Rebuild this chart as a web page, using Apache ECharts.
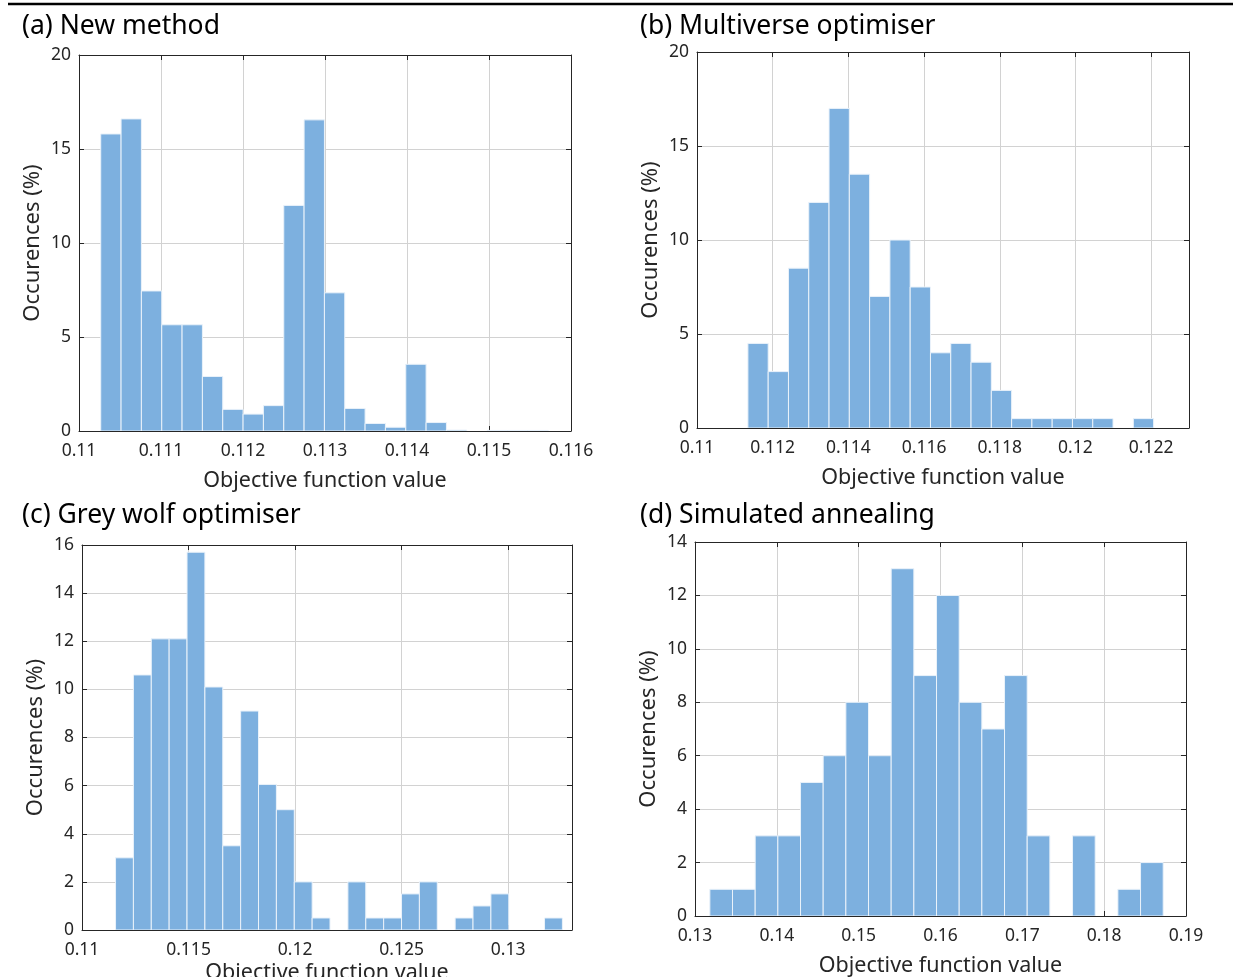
<!DOCTYPE html>
<html>
<head>
<meta charset="utf-8">
<script src="https://cdn.jsdelivr.net/npm/echarts@6/dist/echarts.min.js"></script>
<style>
html,body{margin:0;padding:0;background:#fff;}
#chart{width:1233px;height:977px;}
</style>
</head>
<body>
<div id="chart"></div>
<script>
// ---- Data ----
const titles = ['(a) New method', '(b) Multiverse optimiser', '(c) Grey wolf optimiser', '(d) Simulated annealing'];
const xAxisTitle = 'Objective function value';
const yAxisTitle = 'Occurences (%)';

// Panel (a) New method
const aBinStart = 0.110265;
const aBinWidth = 0.000248;
const aCounts = [15.8, 16.6, 7.45, 5.65, 5.65, 2.9, 1.15, 0.9, 1.35, 12.0, 16.55, 7.35, 1.2, 0.4, 0.2, 3.55, 0.45, 0.05, 0, 0.03, 0.03, 0.03];

// Panel (b) Multiverse optimiser
const bBinStart = 0.111345;
const bBinWidth = 0.000536;
const bCounts = [4.5, 3, 8.5, 12, 17, 13.5, 7, 10, 7.5, 4, 4.5, 3.5, 2, 0.5, 0.5, 0.5, 0.5, 0.5, 0, 0.5];

// Panel (c) Grey wolf optimiser
const cBinStart = 0.111574;
const cBinWidth = 0.000839;
const cCounts = [3, 10.6, 12.1, 12.1, 15.7, 10.1, 3.5, 9.1, 6.05, 5.0, 2, 0.5, 0, 2, 0.5, 0.5, 1.5, 2, 0, 0.5, 1, 1.5, 0, 0, 0.5];

// Panel (d) Simulated annealing
const dBinStart = 0.131814;
const dBinWidth = 0.00277;
const dCounts = [1, 1, 3, 3, 5, 6, 8, 6, 13, 9, 12, 8, 7, 9, 3, 0, 3, 0, 1, 2];

// Axis ranges / ticks
const xRanges = [[0.11, 0.116, 0.001], [0.11, 0.123, 0.002], [0.11, 0.133, 0.005], [0.13, 0.19, 0.01]];
const yRanges = [[0, 20, 5], [0, 20, 5], [0, 16, 2], [0, 14, 2]];

// ---- Layout ----
const grids = [
  {left: 79, top: 55, width: 492, height: 376},
  {left: 697, top: 52, width: 492, height: 376},
  {left: 82, top: 545, width: 490, height: 385},
  {left: 695, top: 542, width: 491, height: 374}
];
const titlePos = [[17, 8], [635, 8], [17, 497], [635, 497]];
const xNameGaps = [39, 39, 32, 39];
const showMaxX = [true, false, false, true];

const panels = [
  [aBinStart, aBinWidth, aCounts],
  [bBinStart, bBinWidth, bCounts],
  [cBinStart, cBinWidth, cCounts],
  [dBinStart, dBinWidth, dCounts]
];

const FONT = 'Noto Sans';
const TXT = '#262626';
const GRIDC = '#D2D2D2';
const BAR = '#7DB0DF';

function binData(start, width, counts) {
  return counts.map((v, i) => [start + i * width, start + (i + 1) * width, v]);
}

const xAxes = [], yAxes = [], series = [], titleOpts = [];
grids.forEach((g, i) => {
  const [xmin, xmax, xint] = xRanges[i];
  const [ymin, ymax, yint] = yRanges[i];
  const baseX = {
    type: 'value', gridIndex: i, min: xmin, max: xmax, interval: xint,
    axisLine: {show: true, onZero: false, lineStyle: {color: TXT, width: 1}},
    axisTick: {show: true, inside: true, length: 5, lineStyle: {color: TXT}},
    splitLine: {show: false}
  };
  xAxes.push(Object.assign({}, baseX, {
    position: 'bottom',
    name: xAxisTitle, nameLocation: 'middle', nameGap: xNameGaps[i],
    nameTextStyle: {fontFamily: FONT, fontSize: 21.5, color: TXT},
    axisLabel: {show: true, margin: 11, fontFamily: FONT, fontSize: 17.5, color: TXT,
      showMaxLabel: showMaxX[i], showMinLabel: true},
    splitLine: {show: true, lineStyle: {color: GRIDC, width: 1}}
  }));
  xAxes.push(Object.assign({}, baseX, {position: 'top', axisLabel: {show: false}}));
  const baseY = {
    type: 'value', gridIndex: i, min: ymin, max: ymax, interval: yint,
    axisLine: {show: true, onZero: false, lineStyle: {color: TXT, width: 1}},
    axisTick: {show: true, inside: true, length: 5, lineStyle: {color: TXT}},
    splitLine: {show: false}
  };
  yAxes.push(Object.assign({}, baseY, {
    position: 'left',
    name: yAxisTitle, nameLocation: 'middle', nameGap: 35,
    nameTextStyle: {fontFamily: FONT, fontSize: 22, color: TXT},
    axisLabel: {show: true, margin: 8, fontFamily: FONT, fontSize: 17.5, color: TXT},
    splitLine: {show: true, lineStyle: {color: GRIDC, width: 1}}
  }));
  yAxes.push(Object.assign({}, baseY, {position: 'right', axisLabel: {show: false}}));

  const [s, w, c] = panels[i];
  series.push({
    type: 'custom',
    xAxisIndex: 2 * i,
    yAxisIndex: 2 * i,
    data: binData(s, w, c),
    encode: {x: [0, 1], y: 2},
    clip: true,
    z: 5,
    renderItem: function (params, api) {
      const v = api.value(2);
      if (!(v > 0)) return null;
      const p0 = api.coord([api.value(0), v]);
      const p1 = api.coord([api.value(1), 0]);
      return {
        type: 'rect',
        shape: {x: p0[0], y: p0[1], width: p1[0] - p0[0], height: p1[1] - p0[1]},
        style: {fill: BAR, stroke: '#EAF2FA', lineWidth: 1}
      };
    }
  });
  titleOpts.push({
    text: titles[i], left: titlePos[i][0], top: titlePos[i][1],
    textStyle: {fontFamily: FONT, fontSize: 26.5, fontWeight: 'normal', color: '#000'}
  });
});

const chart = echarts.init(document.getElementById('chart'), null, {renderer: 'canvas'});
chart.setOption({
  animation: false,
  backgroundColor: '#fff',
  title: titleOpts,
  grid: grids.map(g => Object.assign({show: false, containLabel: false, outerBoundsMode: 'none'}, g)),
  xAxis: xAxes,
  yAxis: yAxes,
  series: series,
  graphic: [{
    type: 'line', shape: {x1: 8, y1: 4, x2: 1233, y2: 4},
    style: {stroke: '#000', lineWidth: 2.5}
  }]
});
</script>
</body>
</html>
